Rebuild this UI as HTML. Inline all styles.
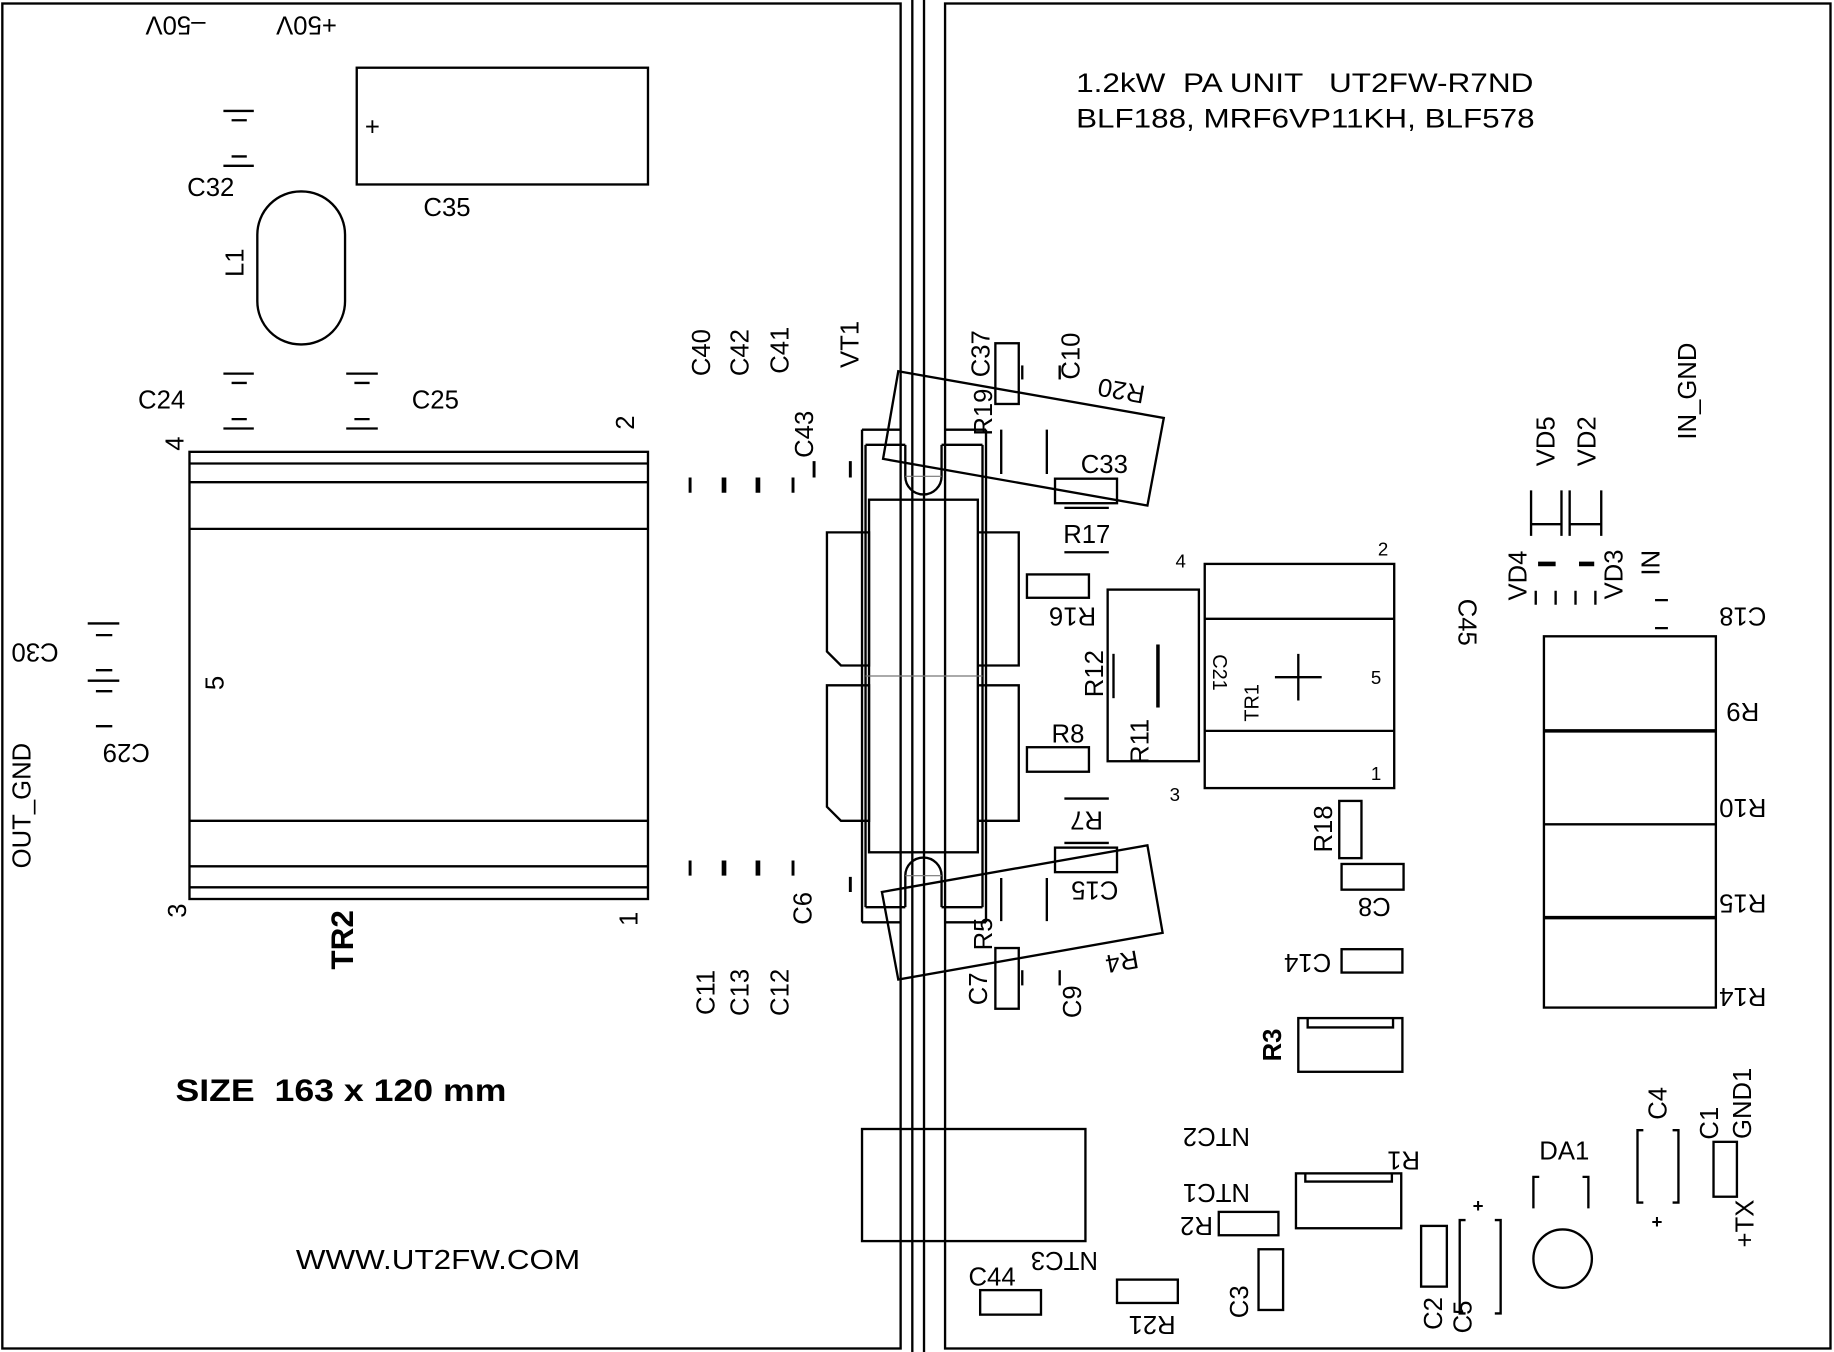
<!DOCTYPE html>
<html><head><meta charset="utf-8"><style>
html,body{margin:0;padding:0;background:#fff;}
svg{display:block;}
text{font-family:"Liberation Sans",sans-serif;font-size:22px;fill:#000;white-space:pre;}
</style></head><body>
<svg width="1834" height="1352" viewBox="0 0 1568 1158" preserveAspectRatio="none" xmlns="http://www.w3.org/2000/svg">
<rect width="1568" height="1158" fill="#fff"/>
<g fill="none" stroke="#000" stroke-width="2">
<rect x="2" y="3" width="768" height="1152"/>
<rect x="808" y="3" width="757" height="1152"/>
<line x1="780" y1="0" x2="780" y2="1158"/><line x1="790" y1="0" x2="790" y2="1158"/>
<rect x="305" y="58" width="249" height="100"/>
<rect x="220" y="164" width="75" height="131" rx="37"/>
<path d="M191 95H217M198 103H211M198 134H211M191 142H217"/>
<path d="M191 320H217M198 328H211M198 359H211M191 367H217"/>
<path d="M296 320H323M303 328H316M303 359H316M296 367H323"/>
<rect x="162" y="387" width="392" height="383"/>
<path d="M162 397H554M162 413H554M162 453H554M162 703H554M162 742H554M162 760H554"/>
<path d="M75 534H102M82 544H96M82 574H96M75 583H102M82 592H96M82 622H96"/>
<g stroke-width="2.5">
<path d="M590 409V422M678 409V422M696 395V409M727 395V409"/>
<path d="M590 737V750M678 737V750M682 750V750M727 751V764"/>
</g>
<path d="M619 409V422M648 409V422M619 737V750M648 737V750" stroke-width="4"/>
<path d="M737 368V790M843 368V790M737 368H770M808 368H843M737 790H770M808 790H843"/>
<path d="M740 381V777M840 381V777M740 381H774M805 381H840M740 777H774M805 777H840"/>
<path d="M774 381V408A15 15 0 0 0 805 408V381"/>
<path d="M774 777V750A15 15 0 0 1 805 750V777"/>
<rect x="743" y="428" width="93" height="302"/>
<path d="M707 456H743V570H719L707 558Z"/>
<path d="M707 587H743V703H719L707 691Z"/>
<path d="M836 456H871V570H836M836 587H871V703H836"/>
<line x1="740" y1="579" x2="840" y2="579" stroke-width="1" stroke="#777"/>
<line x1="774" y1="408" x2="805" y2="408" stroke-width="1" stroke="#777"/>
<line x1="774" y1="750" x2="805" y2="750" stroke-width="1" stroke="#777"/>
<polygon points="768,318 995,358 981,433 755,393"/>
<polygon points="754,764 981,724 994,799 768,839"/>
<rect x="851" y="294" width="20" height="52"/>
<line x1="874" y1="313" x2="874" y2="325"/>
<line x1="906" y1="313" x2="906" y2="325"/>
<rect x="851" y="812" width="20" height="52"/>
<line x1="874" y1="831" x2="874" y2="844"/>
<line x1="906" y1="831" x2="906" y2="844"/>
<path d="M856 368V406M895 368V406M856 752V789M895 752V789"/>
<rect x="902" y="410" width="53" height="21"/>
<path d="M910 435H948M910 473H948"/>
<rect x="878" y="492" width="53" height="20"/>
<rect x="878" y="640" width="53" height="21"/>
<path d="M910 684H948M910 722H948"/>
<rect x="902" y="726" width="53" height="21"/>
<rect x="947" y="505" width="78" height="147"/>
<path d="M952 560V598"/><path d="M990 552V606" stroke-width="3"/>
<rect x="1030" y="483" width="162" height="192"/>
<path d="M1030 530H1192M1030 626H1192M1110 560V600M1090 580H1130"/>
<path d="M1309 420V459M1335 420V459M1309 449H1335M1342 420V459M1369 420V459M1342 449H1369"/>
<path d="M1315 483H1330M1350 483H1363" stroke-width="4"/>
<path d="M1313 506V518M1330 506V518M1347 506V518M1364 506V518M1415 514H1426M1415 538H1426"/>
<rect x="1320" y="545" width="147" height="318"/>
<path d="M1320 626H1467M1320 786H1467" stroke-width="3"/>
<path d="M1320 706H1467"/>
<rect x="1145" y="686" width="19" height="49"/>
<rect x="1147" y="740" width="53" height="22"/>
<rect x="1147" y="813" width="52" height="20"/>
<rect x="1110" y="872" width="89" height="46"/>
<path d="M1118 872V880H1191V872"/>
<rect x="737" y="967" width="191" height="96"/>
<rect x="1108" y="1005" width="90" height="47"/>
<path d="M1116 1005V1012H1190V1005"/>
<rect x="1042" y="1038" width="51" height="20"/>
<rect x="1076" y="1070" width="21" height="52"/>
<rect x="838" y="1105" width="52" height="21"/>
<rect x="955" y="1096" width="52" height="20"/>
<rect x="1215" y="1050" width="22" height="52"/>
<path d="M1253 1045H1248V1125H1253M1278 1045H1283V1125H1278"/>
<path d="M1316 1008H1311V1035M1353 1008H1358V1035"/>
<circle cx="1336" cy="1078" r="25"/>
<path d="M1405 968H1400V1030H1405M1430 968H1435V1030H1430"/>
<rect x="1465" y="978" width="20" height="47"/>
</g>
<text transform="translate(150,20) rotate(180)" text-anchor="middle" dominant-baseline="middle">–50V</text>
<text transform="translate(262,20) rotate(180)" text-anchor="middle" dominant-baseline="middle">+50V</text>
<text x="312" y="116">+</text>
<text x="362" y="185">C35</text>
<text x="160" y="168">C32</text>
<text transform="translate(208,225) rotate(-90)" text-anchor="middle">L1</text>
<text x="118" y="350">C24</text>
<text x="352" y="350">C25</text>
<text transform="translate(157,380) rotate(-90)" text-anchor="middle">4</text>
<text transform="translate(542,362) rotate(-90)" text-anchor="middle">2</text>
<text transform="translate(159,780) rotate(-90)" text-anchor="middle">3</text>
<text transform="translate(545,787) rotate(-90)" text-anchor="middle">1</text>
<text transform="translate(191,585) rotate(-90)" text-anchor="middle">5</text>
<text transform="translate(302,805) rotate(-90)" text-anchor="middle" style="font-weight:bold;font-size:27px">TR2</text>
<text transform="translate(30,557) rotate(180)" text-anchor="middle" dominant-baseline="middle">C30</text>
<text transform="translate(108,643) rotate(180)" text-anchor="middle" dominant-baseline="middle">C29</text>
<text transform="translate(26,690) rotate(-90)" text-anchor="middle">OUT_GND</text>
<text transform="translate(607,302) rotate(-90)" text-anchor="middle">C40</text>
<text transform="translate(640,302) rotate(-90)" text-anchor="middle">C42</text>
<text transform="translate(674,300) rotate(-90)" text-anchor="middle">C41</text>
<text transform="translate(734,295) rotate(-90)" text-anchor="middle">VT1</text>
<text transform="translate(695,372) rotate(-90)" text-anchor="middle">C43</text>
<text transform="translate(611,850) rotate(-90)" text-anchor="middle">C11</text>
<text transform="translate(640,850) rotate(-90)" text-anchor="middle">C13</text>
<text transform="translate(674,850) rotate(-90)" text-anchor="middle">C12</text>
<text transform="translate(694,778) rotate(-90)" text-anchor="middle">C6</text>
<text transform="translate(846,303) rotate(-90)" text-anchor="middle">C37</text>
<text transform="translate(848,353) rotate(-90)" text-anchor="middle">R19</text>
<text transform="translate(923,305) rotate(-90)" text-anchor="middle">C10</text>
<text transform="translate(959,333) rotate(190)" text-anchor="middle" dominant-baseline="middle">R20</text>
<text x="924" y="405">C33</text>
<text x="909" y="465">R17</text>
<text transform="translate(917,526) rotate(180)" text-anchor="middle" dominant-baseline="middle">R16</text>
<text x="1005" y="486" style="font-size:16px">4</text>
<text x="1178" y="476" style="font-size:16px">2</text>
<text x="1172" y="586" style="font-size:16px">5</text>
<text x="1172" y="668" style="font-size:16px">1</text>
<text x="1000" y="686" style="font-size:16px">3</text>
<text transform="translate(1037,576) rotate(90)" text-anchor="middle" style="font-size:17px">C21</text>
<text transform="translate(1076,602) rotate(-90)" text-anchor="middle" style="font-size:17px">TR1</text>
<text transform="translate(943,577) rotate(-90)" text-anchor="middle">R12</text>
<text transform="translate(982,635) rotate(-90)" text-anchor="middle">R11</text>
<text x="899" y="636">R8</text>
<text transform="translate(929,701) rotate(180)" text-anchor="middle" dominant-baseline="middle">R7</text>
<text transform="translate(936,761) rotate(180)" text-anchor="middle" dominant-baseline="middle">C15</text>
<text transform="translate(959,822) rotate(170)" text-anchor="middle" dominant-baseline="middle">R4</text>
<text transform="translate(848,800) rotate(-90)" text-anchor="middle">R5</text>
<text transform="translate(844,847) rotate(-90)" text-anchor="middle">C7</text>
<text transform="translate(924,858) rotate(-90)" text-anchor="middle">C9</text>
<text x="920" y="79" style="font-size:23px" textLength="391" lengthAdjust="spacingAndGlyphs">1.2kW  PA UNIT   UT2FW-R7ND</text>
<text x="920" y="109" style="font-size:23px" textLength="392" lengthAdjust="spacingAndGlyphs">BLF188, MRF6VP11KH, BLF578</text>
<text transform="translate(1450,335) rotate(-90)" text-anchor="middle">IN_GND</text>
<text transform="translate(1329,378) rotate(-90)" text-anchor="middle">VD5</text>
<text transform="translate(1364,378) rotate(-90)" text-anchor="middle">VD2</text>
<text transform="translate(1305,493) rotate(-90)" text-anchor="middle">VD4</text>
<text transform="translate(1387,492) rotate(-90)" text-anchor="middle">VD3</text>
<text transform="translate(1419,482) rotate(-90)" text-anchor="middle">IN</text>
<text transform="translate(1247,533) rotate(90)" text-anchor="middle">C45</text>
<text transform="translate(1490,526) rotate(180)" text-anchor="middle" dominant-baseline="middle">C18</text>
<text transform="translate(1490,608) rotate(180)" text-anchor="middle" dominant-baseline="middle">R9</text>
<text transform="translate(1490,690) rotate(180)" text-anchor="middle" dominant-baseline="middle">R10</text>
<text transform="translate(1490,772) rotate(180)" text-anchor="middle" dominant-baseline="middle">R15</text>
<text transform="translate(1490,852) rotate(180)" text-anchor="middle" dominant-baseline="middle">R14</text>
<text transform="translate(1139,710) rotate(-90)" text-anchor="middle">R18</text>
<text transform="translate(1175,775) rotate(180)" text-anchor="middle" dominant-baseline="middle">C8</text>
<text transform="translate(1118,823) rotate(180)" text-anchor="middle" dominant-baseline="middle">C14</text>
<text transform="translate(1095,895) rotate(-90)" text-anchor="middle" style="font-weight:bold">R3</text>
<text x="150" y="943" style="font-weight:bold;font-size:27px" textLength="283" lengthAdjust="spacingAndGlyphs">SIZE  163 x 120 mm</text>
<text x="253" y="1087" style="font-size:24px" textLength="243" lengthAdjust="spacingAndGlyphs">WWW.UT2FW.COM</text>
<text transform="translate(1040,972) rotate(180)" text-anchor="middle" dominant-baseline="middle">NTC2</text>
<text transform="translate(1200,992) rotate(180)" text-anchor="middle" dominant-baseline="middle">R1</text>
<text transform="translate(1040,1020) rotate(180)" text-anchor="middle" dominant-baseline="middle">NTC1</text>
<text transform="translate(1023,1048) rotate(180)" text-anchor="middle" dominant-baseline="middle">R2</text>
<text transform="translate(910,1078) rotate(180)" text-anchor="middle" dominant-baseline="middle">NTC3</text>
<text x="828" y="1101">C44</text>
<text transform="translate(985,1133) rotate(180)" text-anchor="middle" dominant-baseline="middle">R21</text>
<text transform="translate(1067,1115) rotate(-90)" text-anchor="middle">C3</text>
<text transform="translate(1233,1125) rotate(-90)" text-anchor="middle">C2</text>
<text transform="translate(1258,1128) rotate(-90)" text-anchor="middle">C5</text>
<text x="1259" y="1038" style="font-weight:bold;font-size:16px">+</text>
<text x="1316" y="993">DA1</text>
<text transform="translate(1425,945) rotate(-90)" text-anchor="middle">C4</text>
<text x="1412" y="1052" style="font-weight:bold;font-size:16px">+</text>
<text transform="translate(1469,962) rotate(-90)" text-anchor="middle">C1</text>
<text transform="translate(1497,945) rotate(-90)" text-anchor="middle">GND1</text>
<text transform="translate(1499,1048) rotate(-90)" text-anchor="middle">+TX</text>
</svg>
</body></html>
